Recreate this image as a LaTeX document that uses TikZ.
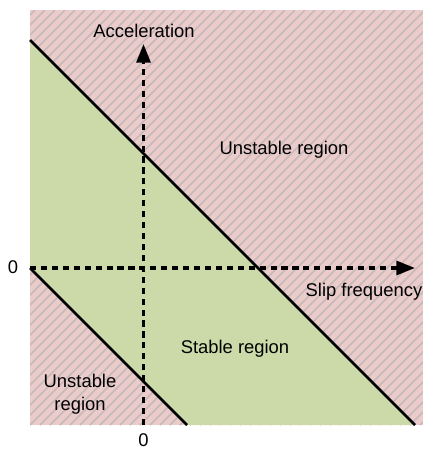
\documentclass[tikz,border=0pt]{standalone}
\usepackage{fontspec}
\setmainfont{Liberation Sans}
\usetikzlibrary{arrows.meta}
\definecolor{pinkfill}{RGB}{236,203,203}
\definecolor{hatch}{RGB}{196,186,186}
\definecolor{greenfill}{RGB}{204,218,169}
\tikzset{
  lbl/.style={font=\fontsize{13.8}{17}\selectfont, text=black, inner sep=0pt},
  axis/.style={line width=2.3pt, dash pattern=on 4.6pt off 3.6pt, -{Triangle[length=14pt,width=10.5pt]}},
  boundary/.style={line width=1.9pt, black},
}
\begin{document}
\begin{tikzpicture}[x=0.75pt,y=-0.75pt]
\useasboundingbox (0,0) rectangle (423,450);
% pink background with hatching
\fill[pinkfill] (30,10) rectangle (423,425);
\begin{scope}
  \clip (30,10) rectangle (423,425);
  \foreach \a in {-420,-410,...,430} {
    \draw[hatch, line width=1.1pt] (\a,425) -- (\a+415,10);
  }
\end{scope}
% stable band
\fill[greenfill] (30,40) -- (415,425) -- (187,425) -- (30,268) -- cycle;
% boundaries
\coordinate (u1) at (30,40);
\coordinate (u2) at (415,425);
\coordinate (l1) at (30,268);
\coordinate (l2) at (187,425);
\draw[boundary] (u1) -- (u2);
\draw[boundary] (l1) -- (l2);
% axes
\coordinate (xs) at (30,268);
\coordinate (xe) at (415,268);
\coordinate (ys) at (143.5,425);
\coordinate (ye) at (143.5,44);
\draw[axis] (xs) -- (xe);
\draw[axis] (ys) -- (ye);
% labels
\node[lbl, anchor=base] (acc) at (144,37) {Acceleration};
\node[lbl, anchor=base] (unst1) at (284,154) {Unstable region};
\node[lbl, anchor=base] (zeroy) at (13,273) {0};
\node[lbl, anchor=base] (slip) at (364,296) {Slip frequency};
\node[lbl, anchor=base] (stab) at (235,353) {Stable region};
\node[lbl, anchor=base] (unst2a) at (80,387) {Unstable};
\node[lbl, anchor=base] (unst2b) at (80,410) {region};
\node[lbl, anchor=base] (zerox) at (143.5,446) {0};
\end{tikzpicture}
\end{document}
